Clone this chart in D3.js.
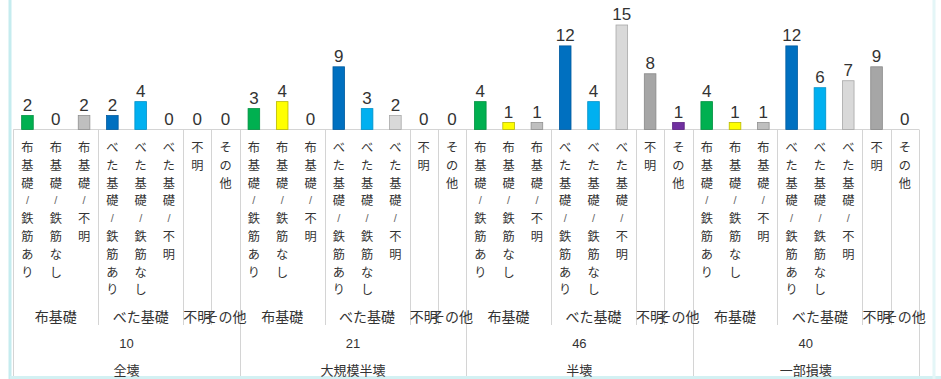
<!DOCTYPE html>
<html>
<head>
<meta charset="utf-8">
<script src="https://cdn.jsdelivr.net/npm/d3@7"></script>
<style>
  html, body { margin: 0; padding: 0; background: #fff; }
  svg { display: block; }
</style>
</head>
<body>
<svg id="chart" width="941" height="379"></svg>
<script>
// Damage levels (outer axis level) with their totals
const damageLevels = ["全壊", "大規模半壊", "半壊", "一部損壊"];
const damageTotals = [10, 21, 46, 40];

// Foundation types (middle axis level) and how many categories each spans
const foundationGroups = ["布基礎", "べた基礎", "不明", "その他"];
const foundationSpans = [3, 3, 1, 1];

// Innermost categories
const categories = [
  "布基礎／鉄筋あり", "布基礎／鉄筋なし", "布基礎／不明",
  "べた基礎／鉄筋あり", "べた基礎／鉄筋なし", "べた基礎／不明",
  "不明", "その他"
];
const categoryColors = ["#00b050", "#ffff00", "#bfbfbf", "#0070c0", "#00b0f0", "#d9d9d9", "#a6a6a6", "#7030a0"];
const categoryStrokes = ["#009040", "#b8b800", "#909090", "#005a9e", "#0090c8", "#a8a8a8", "#888888", "#5a2080"];

// Counts per damage level, in category order
const valuesZenkai = [2, 0, 2, 2, 4, 0, 0, 0];
const valuesDaikibo = [3, 4, 0, 9, 3, 2, 0, 0];
const valuesHankai = [4, 1, 1, 12, 4, 15, 8, 1];
const valuesIchibu = [4, 1, 1, 12, 6, 7, 9, 0];
const seriesValues = [valuesZenkai, valuesDaikibo, valuesHankai, valuesIchibu];

const svg = d3.select("#chart");
const jp = "'Noto Sans CJK JP', 'Noto Sans', sans-serif";
const num = "'Liberation Sans', Arial, sans-serif";

const axisY = 129.5;
const bottomY = 376;
const levelTwoBottom = 325;

// Flattened rows: one per bar slot
const rows = [];
damageLevels.forEach((d, gi) => {
  categories.forEach((c, ci) => {
    rows.push({ key: gi + "-" + ci, group: gi, cat: ci, label: c, value: seriesValues[gi][ci] });
  });
});

const x = d3.scaleBand().domain(rows.map(r => r.key)).range([13.3, 919]).padding(0);
const y = d3.scaleLinear().domain([0, 15]).range([axisY, 25]);
const step = x.step();
const barW = step * 0.41;

// Outer frame edges
svg.append("line").attr("x1", 10).attr("x2", 10).attr("y1", 0).attr("y2", 379)
  .attr("stroke", "#c5ecef").attr("stroke-width", 3);
svg.append("line").attr("x1", 10).attr("x2", 941).attr("y1", 377.5).attr("y2", 377.5)
  .attr("stroke", "#d3f1f3").attr("stroke-width", 3);
svg.append("line").attr("x1", 934).attr("x2", 934).attr("y1", 0).attr("y2", 379)
  .attr("stroke", "#e4f6f7").attr("stroke-width", 3);

// Category axis line
const gridColor = "#d4d4d4";
svg.append("line").attr("x1", x.range()[0]).attr("x2", x.range()[1])
  .attr("y1", axisY).attr("y2", axisY).attr("stroke", gridColor).attr("stroke-width", 1);

// Separators: foundation-group boundaries (to middle row) and damage-level boundaries (to bottom)
const sepG = svg.append("g").attr("stroke", gridColor).attr("stroke-width", 1);
damageLevels.forEach((d, gi) => {
  let offset = 0;
  const gStart = gi * categories.length;
  sepG.append("line")
    .attr("x1", Math.round(x(rows[gStart].key)) + 0.5).attr("x2", Math.round(x(rows[gStart].key)) + 0.5)
    .attr("y1", axisY).attr("y2", bottomY);
  foundationSpans.forEach((span, fi) => {
    if (fi > 0) {
      const xx = Math.round(x(rows[gStart + offset].key)) + 0.5;
      sepG.append("line").attr("x1", xx).attr("x2", xx).attr("y1", axisY).attr("y2", levelTwoBottom);
    }
    offset += span;
  });
});
sepG.append("line").attr("x1", 919.5).attr("x2", 919.5).attr("y1", axisY).attr("y2", bottomY);

// Bars
svg.append("g").selectAll("rect").data(rows.filter(r => r.value > 0)).join("rect")
  .attr("x", r => x(r.key) + (step - barW) / 2)
  .attr("y", r => y(r.value))
  .attr("width", barW)
  .attr("height", r => axisY - y(r.value))
  .attr("fill", r => categoryColors[r.cat])
  .attr("stroke", r => categoryStrokes[r.cat])
  .attr("stroke-width", 0.8);

// Value labels
svg.append("g").selectAll("text").data(rows).join("text")
  .attr("x", r => x(r.key) + step / 2)
  .attr("y", r => y(r.value) - 5)
  .attr("text-anchor", "middle")
  .attr("font-family", num)
  .attr("font-size", 17)
  .attr("fill", "#333")
  .text(r => r.value);

// Innermost labels, stacked vertically one character per line
const charStep = 17.8;
const lab = svg.append("g").attr("font-family", jp).attr("font-size", 12.2).attr("fill", "#333");
rows.forEach(r => {
  const cx = x(r.key) + step / 2;
  const t = lab.append("text").attr("text-anchor", "middle").attr("dominant-baseline", "central");
  Array.from(r.label).forEach((ch, i) => {
    const isSlash = ch === "／";
    t.append("tspan")
      .attr("x", cx)
      .attr("y", 147 + i * charStep)
      .attr("font-family", isSlash ? num : null)
      .attr("font-size", isSlash ? 11 : null)
      .attr("fill", isSlash ? "#666" : null)
      .text(isSlash ? "/" : ch);
  });
});

// Foundation group labels
const mid = svg.append("g").attr("font-family", jp).attr("font-size", 14).attr("fill", "#333");
damageLevels.forEach((d, gi) => {
  let offset = 0;
  foundationSpans.forEach((span, fi) => {
    const first = rows[gi * categories.length + offset];
    const cx = x(first.key) + span * step / 2;
    mid.append("text").attr("x", cx).attr("y", 316)
      .attr("text-anchor", "middle").attr("dominant-baseline", "central")
      .text(foundationGroups[fi]);
    offset += span;
  });
});

// Damage level labels with totals
const outer = svg.append("g").attr("font-family", jp).attr("font-size", 13).attr("fill", "#333");
damageLevels.forEach((d, gi) => {
  const first = rows[gi * categories.length];
  const cx = x(first.key) + categories.length * step / 2;
  outer.append("text").attr("x", cx).attr("y", 343)
    .attr("text-anchor", "middle").attr("dominant-baseline", "central")
    .attr("font-family", num)
    .text(damageTotals[gi]);
  outer.append("text").attr("x", cx).attr("y", 369)
    .attr("text-anchor", "middle").attr("dominant-baseline", "central")
    .text(d);
});
</script>
</body>
</html>
